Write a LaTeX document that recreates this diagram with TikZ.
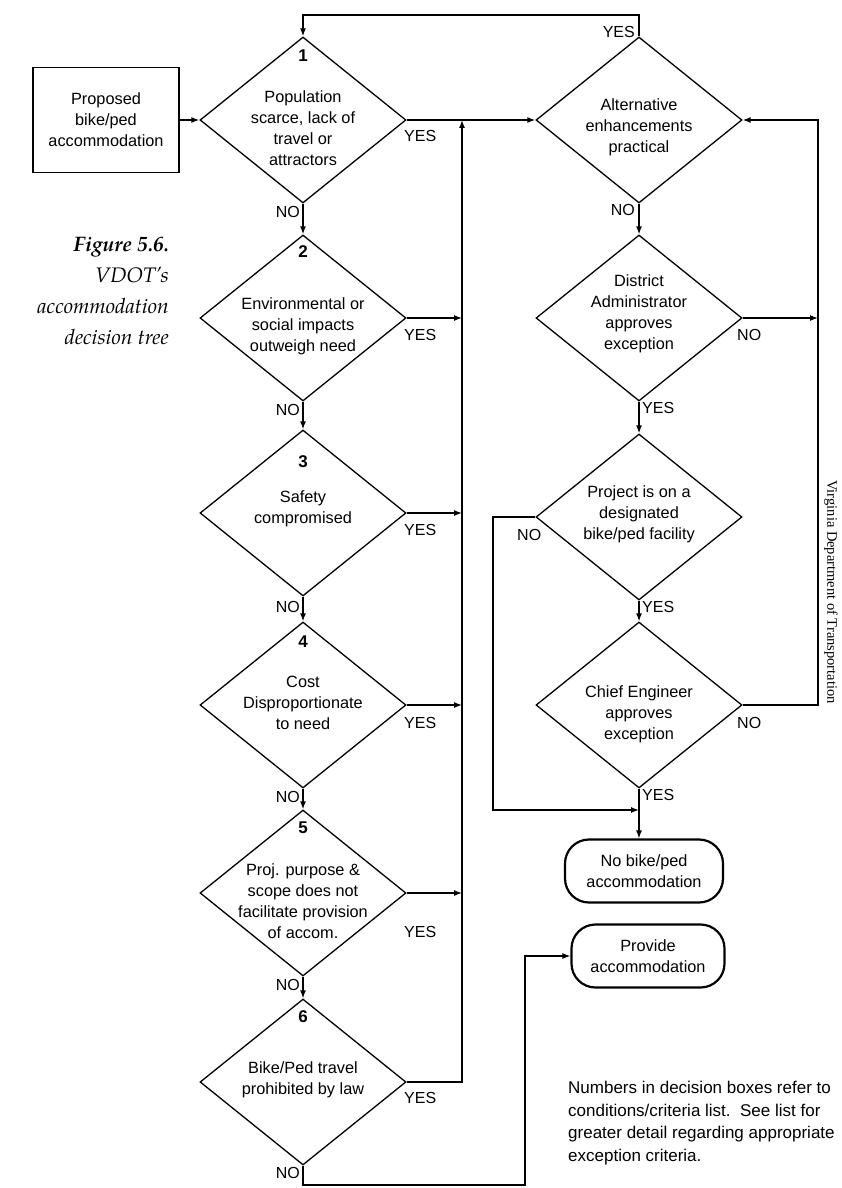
\documentclass[tikz,border=0pt]{standalone}
\usepackage{fontspec}
\setsansfont{Liberation Sans}
\newfontfamily\timesfam{Liberation Serif}
\newfontfamily\capfam{TeX Gyre Pagella}
\usetikzlibrary{shapes.geometric,arrows.meta}
\begin{document}
\begin{tikzpicture}[x=1pt,y=-1pt,
  dia/.style={draw,diamond,minimum width=206pt,minimum height=166pt,inner sep=0pt,line width=1.3pt},
  txt/.style={font=\sffamily\fontsize{16.3}{21}\selectfont,align=center,inner sep=0pt},
  num/.style={font=\sffamily\bfseries\fontsize{17}{20}\selectfont,inner sep=0pt},
  lab/.style={font=\sffamily\fontsize{16}{18}\selectfont,inner sep=0pt},
  ln/.style={line width=1.3pt},
  arr/.style={ln,-{Latex[length=8pt,width=6pt]}},
  term/.style={draw,rectangle,rounded corners=24pt,line width=2.2pt,minimum height=63pt,inner sep=0pt,align=center,font=\sffamily\fontsize{16.3}{21}\selectfont},
  startbox/.style={draw,rectangle,line width=1.3pt,minimum width=146pt,minimum height=105pt,inner sep=0pt,align=center,font=\sffamily\fontsize{16.3}{21}\selectfont}
]
\useasboundingbox (0,0) rectangle (842,1188);
% start box
\node[startbox] (start) at (106,120) {Proposed\\bike/ped\\accommodation};
% left column diamonds
\node[dia] (d1) at (303,120) {};
\node[dia] (d2) at (303,318) {};
\node[dia] (d3) at (303,513) {};
\node[dia] (d4) at (303,705) {};
\node[dia] (d5) at (303,893) {};
\node[dia] (d6) at (303,1082) {};
% right column diamonds
\node[dia] (alt) at (639,120) {};
\node[dia] (dist) at (639,318) {};
\node[dia] (proj) at (639,517) {};
\node[dia] (chief) at (639,705) {};
% terminals
\node[term,minimum width=158pt] (nobike) at (644,871) {No bike/ped\\accommodation};
\node[term,minimum width=153pt] (provide) at (648,956) {Provide\\accommodation};
% numbers
\node[num] (n1) at (303,56) {1};
\node[num] (n2) at (303,252) {2};
\node[num] (n3) at (303,462) {3};
\node[num] (n4) at (303,642) {4};
\node[num] (n5) at (303,828) {5};
\node[num] (n6) at (303,1017) {6};
% diamond texts
\node[txt] (t1) at (303,128) {Population\\scarce, lack of\\travel or\\attractors};
\node[txt] (t2) at (303,326) {Environmental or\\social impacts\\outweigh need};
\node[txt] (t3) at (303,509) {Safety\\compromised};
\node[txt] (t4) at (303,703) {Cost\\Disproportionate\\to need};
\node[txt] (t5) at (303,901) {Proj. purpose \&\\scope does not\\facilitate provision\\of accom.};
\node[txt] (t6) at (303,1080) {Bike/Ped travel\\prohibited by law};
\node[txt] (ta) at (639,127) {Alternative\\enhancements\\practical};
\node[txt] (td) at (639,314) {District\\Administrator\\approves\\exception};
\node[txt] (tp) at (639,514) {Project is on a\\designated\\bike/ped facility};
\node[txt] (tc) at (639,714) {Chief Engineer\\approves\\exception};
% bus coordinates
\coordinate (bt) at (462,120);
\coordinate (top) at (639,15);
\coordinate (rl) at (818,120);
\coordinate (pl) at (493,517);
\coordinate (pj) at (639,810);
\coordinate (bl) at (303,1185);
\coordinate (br) at (525,1185);
% connectors
\draw[arr] (start.east) -- (d1.west);
\draw[arr] (d1.south) -- (d2.north);
\draw[arr] (d2.south) -- (d3.north);
\draw[arr] (d3.south) -- (d4.north);
\draw[arr] (d4.south) -- (d5.north);
\draw[arr] (d5.south) -- (d6.north);
\draw[arr] (d6.east) -| (bt);
\draw[arr] (d2.east) -- (d2.east -| bt);
\draw[arr] (d3.east) -- (d3.east -| bt);
\draw[arr] (d4.east) -- (d4.east -| bt);
\draw[arr] (d5.east) -- (d5.east -| bt);
\draw[arr] (d1.east) -- (alt.west);
\draw[arr] (alt.north) -- (top) -| (d1.north);
\draw[arr] (alt.south) -- (dist.north);
\draw[arr] (dist.east) -- (dist.east -| rl);
\draw[arr] (dist.south) -- (proj.north);
\draw[arr] (proj.south) -- (chief.north);
\draw[arr] (proj.west) -- (pl) |- (pj);
\draw[arr] (chief.east) -| (rl) -- (alt.east);
\draw[arr] (chief.south) -- (chief.south |- nobike.north);
\draw[arr] (d6.south) -- (bl) -- (br) |- (provide.west);
% YES / NO labels
\node[lab,anchor=east] (l1n) at (300,212) {NO};
\node[lab,anchor=east] (l2n) at (300,410) {NO};
\node[lab,anchor=east] (l3n) at (300,607) {NO};
\node[lab,anchor=east] (l4n) at (300,797) {NO};
\node[lab,anchor=east] (l5n) at (300,985) {NO};
\node[lab,anchor=east] (l6n) at (300,1173) {NO};
\node[lab,anchor=west] (l1y) at (404,136) {YES};
\node[lab,anchor=west] (l2y) at (404,335) {YES};
\node[lab,anchor=west] (l3y) at (404,530) {YES};
\node[lab,anchor=west] (l4y) at (404,723) {YES};
\node[lab,anchor=west] (l5y) at (404,932) {YES};
\node[lab,anchor=west] (l6y) at (404,1098) {YES};
\node[lab,anchor=east] (lay) at (635,32) {YES};
\node[lab,anchor=east] (lan) at (635,210) {NO};
\node[lab,anchor=west] (ldn) at (737,335) {NO};
\node[lab,anchor=west] (ldy) at (642,408) {YES};
\node[lab,anchor=west] (lpn) at (517,535) {NO};
\node[lab,anchor=west] (lpy) at (642,607) {YES};
\node[lab,anchor=west] (lcn) at (737,723) {NO};
\node[lab,anchor=west] (lcy) at (642,795) {YES};
% caption
\node[align=right,anchor=east,inner sep=0pt,font=\capfam\itshape\fontsize{21}{31}\selectfont] (cap) at (169,291)
  {\textbf{Figure 5.6.}\\VDOT’s\\accommodation\\decision tree};
% side credit
\node[rotate=-90,inner sep=0pt,font=\timesfam\fontsize{14.5}{16}\selectfont] (credit) at (831,592) {Virginia Department of Transportation};
% note
\node[align=left,anchor=west,inner sep=0pt,font=\sffamily\fontsize{17}{22.5}\selectfont] (note) at (568,1123)
  {Numbers in decision boxes refer to\\conditions/criteria list.\ \ See list for\\greater detail regarding appropriate\\exception criteria.};
\end{tikzpicture}
\end{document}
